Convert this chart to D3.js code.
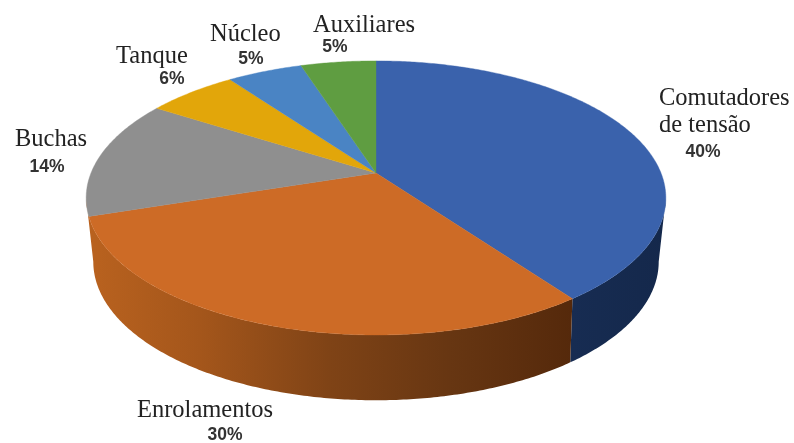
<!DOCTYPE html>
<html><head><meta charset="utf-8">
<script src="https://cdn.jsdelivr.net/npm/d3@7/dist/d3.min.js"></script>
<style>html,body{margin:0;padding:0;background:#fff}svg{display:block;filter:blur(0.4px)}</style>
</head><body><svg id="c" width="794" height="443"></svg>
<script>
const categories=["Comutadores de tensão","Enrolamentos","Buchas","Tanque","Núcleo","Auxiliares"];
const shares=[40,30,14,6,5,5];
const colors=["#3a62ac","#cd6b26","#8f8f8f","#e2a60a","#4a84c4","#5f9d41"];
const labelLines=[["Comutadores","de tensão"],["Enrolamentos"],["Buchas"],["Tanque"],["Núcleo"],["Auxiliares"]];
const labelPos=[[659,105],[137,417],[15,146],[116,63],[210,41],[313,32]];
const pctPos=[[703,157],[225,439.5],[47,172],[172,84],[251,64],[335,52]];

const W=794,H=443;
const svg=d3.select("#c").attr("viewBox",[0,0,W,H]);
const top_={cx:376,cy:173,A:285,B:132.5,k:0.182};
const bot_={cx:376,cy:234,A:277,B:133,k:0.2};
const proj=(p,t)=>{const u=Math.sin(t),v=-Math.cos(t),d=1-p.k*v;return [p.cx+p.A*u/d,p.cy+p.B*v/d];};
const arcPts=(p,a,b)=>{const n=Math.max(2,Math.ceil(Math.abs(b-a)/0.01));return d3.range(n+1).map(i=>proj(p,a+(b-a)*i/n));};
const line=d3.line();
const pie=d3.pie().sort(null).value(d=>d)(shares);

const defs=svg.append("defs");
function grad(id,stops){const g=defs.append("linearGradient").attr("id",id).attr("gradientUnits","userSpaceOnUse").attr("x1",90).attr("x2",666).attr("y1",0).attr("y2",0);
 stops.forEach(s=>g.append("stop").attr("offset",(s[0]-90)/576).attr("stop-color",s[1]));}
grad("sideOrange",[[90,"#b9621f"],[200,"#a4561b"],[330,"#7f4316"],[450,"#673612"],[572,"#55290b"]]);
grad("sideBlue",[[572,"#172c52"],[666,"#14284b"]]);

const tangent=p=>Math.acos(-p.k);
const sideSpec=[{f:"url(#sideBlue)",a:tangent(top_),b:pie[0].endAngle,a2:tangent(bot_)},
 {f:"url(#sideOrange)",a:pie[1].startAngle,b:2*Math.PI-tangent(top_),a2:pie[1].startAngle,b2:2*Math.PI-tangent(bot_)}];
svg.append("g").selectAll("path").data(sideSpec).join("path")
 .attr("d",d=>line(arcPts(top_,d.a,d.b).concat(arcPts(bot_,d.b2||d.b,d.a2)))+"Z")
 .attr("fill",d=>d.f);

svg.append("g").selectAll("path").data(pie).join("path")
 .attr("d",d=>line([[top_.cx,top_.cy]].concat(arcPts(top_,d.startAngle,d.endAngle)))+"Z")
 .attr("fill",(d,i)=>colors[i]).attr("stroke",(d,i)=>colors[i]).attr("stroke-width",0.4);

const g=svg.append("g");
labelLines.forEach((ls,i)=>ls.forEach((s,j)=>g.append("text").attr("x",labelPos[i][0]).attr("y",labelPos[i][1]+j*27)
 .attr("font-family","Liberation Serif").attr("font-size",24.5).attr("fill","#222").text(s)));
g.selectAll("text.p").data(shares).join("text").attr("class","p")
 .attr("x",(d,i)=>pctPos[i][0]).attr("y",(d,i)=>pctPos[i][1]).attr("text-anchor","middle")
 .attr("font-family","Liberation Sans").attr("font-weight","bold").attr("font-size",17.5).attr("fill","#333")
 .text(d=>d+"%");
</script></body></html>
